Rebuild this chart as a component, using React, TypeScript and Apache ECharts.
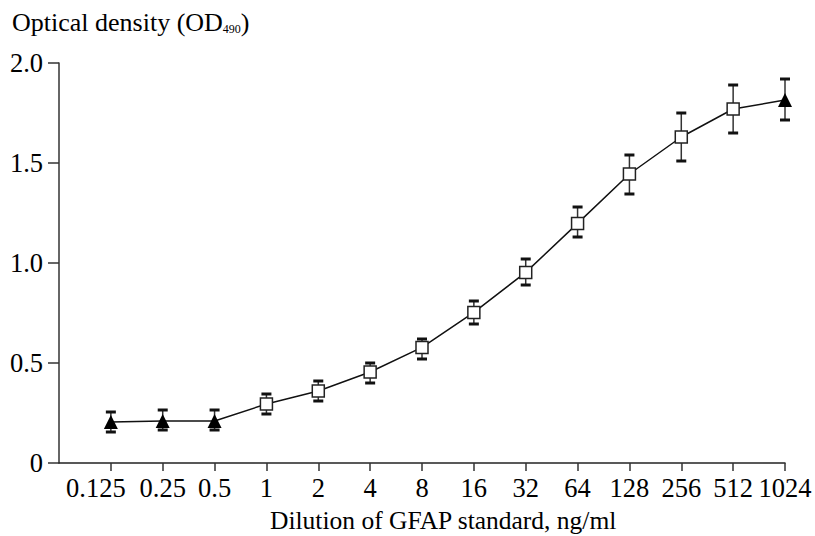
import React, { useEffect, useRef } from "react";
import * as echarts from "echarts";

const categories = ["0.125", "0.25", "0.5", "1", "2", "4", "8", "16", "32", "64", "128", "256", "512", "1024"];
const means = [0.205, 0.21, 0.21, 0.295, 0.36, 0.455, 0.578, 0.753, 0.953, 1.198, 1.445, 1.63, 1.77, 1.815];
const upper = [0.255, 0.265, 0.265, 0.345, 0.41, 0.5, 0.62, 0.81, 1.02, 1.28, 1.54, 1.75, 1.89, 1.92];
const lower = [0.155, 0.165, 0.165, 0.245, 0.31, 0.4, 0.52, 0.695, 0.89, 1.13, 1.345, 1.51, 1.65, 1.715];
const markerKinds = ["triangle", "triangle", "triangle", "square", "square", "square", "square", "square", "square", "square", "square", "square", "square", "triangle"];
const yTicks = [0, 0.5, 1.0, 1.5, 2.0];

const FONT = "serif";

export default function App() {
  const ref = useRef<HTMLDivElement>(null);
  useEffect(() => {
    if (!ref.current) return;
    const chart = echarts.init(ref.current, null, { renderer: "svg" });
    const axisData = ["", ...categories];
    const pts = means.map((v, i) => [i + 1, v]);
    const errData = means.map((_, i) => [i + 1, lower[i], upper[i]]);
    const labelRich = {
      t: { fontFamily: FONT, fontSize: 26.5, color: "#000" },
      f: { fontFamily: FONT, fontSize: 26.5, color: "#000", padding: [0, 30, 0, 0] },
    };
    chart.setOption({
      animation: false,
      backgroundColor: "#fff",
      textStyle: { fontFamily: FONT },
      grid: { left: 59, right: 30, top: 63, bottom: 73, containLabel: false },
      xAxis: {
        type: "category",
        data: axisData,
        boundaryGap: false,
        axisLine: { lineStyle: { color: "#222", width: 1.5 } },
        axisTick: { length: 8, interval: (i: number) => i !== 0, lineStyle: { color: "#333", width: 1.5 } },
        axisLabel: {
          interval: (i: number) => i !== 0,
          fontFamily: FONT,
          fontSize: 26.5,
          color: "#000",
          margin: 11,
          formatter: (v: string, i: number) => (i === 1 ? `{f|${v}}` : `{t|${v}}`),
          rich: labelRich,
        },
        splitLine: { show: false },
      },
      yAxis: {
        type: "value",
        min: 0,
        max: 2,
        interval: 0.5,
        axisLine: { show: true, lineStyle: { color: "#333", width: 1.5 } },
        axisTick: { show: true, length: 11, lineStyle: { color: "#333", width: 1.5 } },
        axisLabel: {
          fontFamily: FONT,
          fontSize: 26.5,
          color: "#000",
          margin: 16,
          formatter: (v: number) => `{t|${v === 0 ? "0" : yTicks.includes(v) ? v.toFixed(1) : ""}}`,
          rich: labelRich,
        },
        splitLine: { show: false },
      },
      graphic: [
        {
          type: "text",
          left: 12,
          top: 9,
          style: {
            text: "{a|Optical density (OD}{s|490}{a|)}",
            rich: {
              a: { fontFamily: FONT, fontSize: 26, fill: "#000" },
              s: { fontFamily: FONT, fontSize: 12, fill: "#000", verticalAlign: "bottom", padding: [12, 0, 0, 0] },
            },
          },
        },
        {
          type: "text",
          left: 270,
          top: 507,
          style: { text: "Dilution of GFAP standard, ng/ml", fontFamily: FONT, fontSize: 25.5, fill: "#000" },
        },
      ],
      series: [
        {
          type: "custom",
          z: 2,
          data: errData,
          renderItem: (params: any, api: any) => {
            const x = api.value(0);
            const lo = api.coord([x, api.value(1)]);
            const hi = api.coord([x, api.value(2)]);
            const cw = 5;
            return {
              type: "group",
              children: [
                { type: "line", shape: { x1: lo[0], y1: lo[1], x2: hi[0], y2: hi[1] }, style: { stroke: "#333", lineWidth: 1.5 } },
                { type: "line", shape: { x1: hi[0] - cw, y1: hi[1], x2: hi[0] + cw, y2: hi[1] }, style: { stroke: "#111", lineWidth: 3 } },
                { type: "line", shape: { x1: lo[0] - cw, y1: lo[1], x2: lo[0] + cw, y2: lo[1] }, style: { stroke: "#111", lineWidth: 3 } },
              ],
            };
          },
        },
        {
          type: "line",
          z: 3,
          data: pts.map((p, i) =>
            markerKinds[i] === "triangle"
              ? { value: p, symbol: "triangle", symbolSize: [14, 14], itemStyle: { color: "#000", borderColor: "#000", borderWidth: 0 } }
              : { value: p, symbol: "rect", symbolSize: 12, itemStyle: { color: "#fff", borderColor: "#222", borderWidth: 1.5 } }
          ),
          showSymbol: true,
          lineStyle: { color: "#111", width: 1.5 },
          emphasis: { disabled: true },
        },
      ],
    });
    return () => chart.dispose();
  }, []);
  return <div ref={ref} style={{ width: 815, height: 536, position: "absolute", left: 0, top: 0 }} />;
}
